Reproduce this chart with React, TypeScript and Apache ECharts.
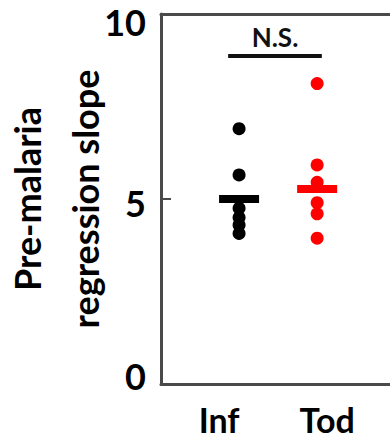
import React, { useEffect, useRef } from "react";
import * as echarts from "echarts";

const groups = ["Inf", "Tod"];
const infValues = [6.9, 5.65, 4.75, 4.5, 4.3, 4.07];
const todValues = [8.12, 5.92, 5.45, 4.9, 4.6, 3.94];
const groupMeans = [5.0, 5.27];
const groupColors = ["#000000", "#ff0000"];
const yTicks = [0, 5, 10];
const sigLabel = "N.S.";
const sigLevel = 8.86;
const sigSpan = [0.86, 2.06];
const yName = "Pre-malaria\nregression slope";

const FONT = "Lato";
const X_MAX = 3.01;

export default function App() {
  const ref = useRef<HTMLDivElement>(null);
  useEffect(() => {
    document.body.style.margin = "0";
    const chart = echarts.init(ref.current!, null, { renderer: "svg" });
    const axisColor = "#4a4a4a";
    const lbl = { fontFamily: FONT, fontWeight: "bold", fontSize: 36, color: "#000", lineHeight: 36 };
    const option: any = {
      animation: false,
      backgroundColor: "#ffffff",
      grid: { left: 161, right: -6, top: 14, bottom: 58, containLabel: false, outerBoundsMode: "none" },
      xAxis: [
        {
          type: "value",
          min: 0,
          max: X_MAX,
          interval: 1,
          position: "bottom",
          splitLine: { show: false },
          axisTick: { show: false },
          axisLine: { show: true, lineStyle: { color: axisColor, width: 3 } },
          axisLabel: {
            margin: 18,
            showMaxLabel: false,
            formatter: (v: number) => {
              if (v === 1) return "{a|" + groups[0] + "}";
              if (v === 2) return "{b|" + groups[1] + "}";
              return "";
            },
            rich: {
              a: { fontFamily: FONT, fontWeight: "bold", fontSize: 34, color: "#000", padding: [0, 40, 0, 0] },
              b: { fontFamily: FONT, fontWeight: "bold", fontSize: 34, color: "#000", padding: [0, 0, 0, 20] },
            },
          },
        },
        {
          type: "value",
          min: 0,
          max: X_MAX,
          position: "top",
          splitLine: { show: false },
          axisTick: { show: false },
          axisLabel: { show: false },
          axisLine: { show: true, lineStyle: { color: axisColor, width: 3 } },
        },
      ],
      yAxis: {
        type: "value",
        min: 0,
        max: 10,
        interval: 5,
        splitLine: { show: false },
        axisLine: { show: true, lineStyle: { color: axisColor, width: 3 } },
        axisTick: { show: true, inside: true, length: 10, lineStyle: { color: axisColor, width: 2 } },
        name: yName,
        nameLocation: "middle",
        nameRotate: 90,
        nameGap: 47,
        nameMoveOverlap: false,
        nameTextStyle: { fontFamily: FONT, fontWeight: "bold", fontSize: 36, color: "#000", lineHeight: 58 },
        axisLabel: {
          margin: 15,
          formatter: (v: number) => {
            if (v === yTicks[2]) return "{s16| }\n{n|" + v + "}";
            if (v === yTicks[0]) return "{n|" + v + "}\n{s16| }";
            return "{s8| }\n{n|" + v + "}";
          },
          rich: {
            n: lbl,
            s16: { fontSize: 8, lineHeight: 16 },
            s8: { fontSize: 8, lineHeight: 8 },
          },
        },
      },
      series: [
        {
          type: "scatter",
          name: groups[0],
          symbol: "circle",
          symbolSize: 13,
          itemStyle: { color: groupColors[0], opacity: 1 },
          data: infValues.map((v) => [1, v]),
        },
        {
          type: "scatter",
          name: groups[1],
          symbol: "circle",
          symbolSize: 13,
          itemStyle: { color: groupColors[1], opacity: 1 },
          data: todValues.map((v) => [2, v]),
          markLine: {
            silent: true,
            symbol: "none",
            lineStyle: { color: "#111", width: 4, type: "solid" },
            label: {
              show: true,
              position: "middle",
              distance: 6,
              formatter: sigLabel,
              fontFamily: FONT,
              fontWeight: "bold",
              fontSize: 26,
              color: "#111",
            },
            data: [[{ coord: [sigSpan[0], sigLevel] }, { coord: [sigSpan[1], sigLevel] }]],
          },
        },
        {
          type: "scatter",
          name: "center",
          symbol: "rect",
          symbolSize: [40, 8],
          z: 3,
          data: groupMeans.map((m, i) => ({ value: [i + 1, m], itemStyle: { color: groupColors[i], opacity: 1 } })),
        },
      ],
    };
    chart.setOption(option);
    return () => chart.dispose();
  }, []);
  return <div ref={ref} style={{ width: 390, height: 442 }} />;
}
